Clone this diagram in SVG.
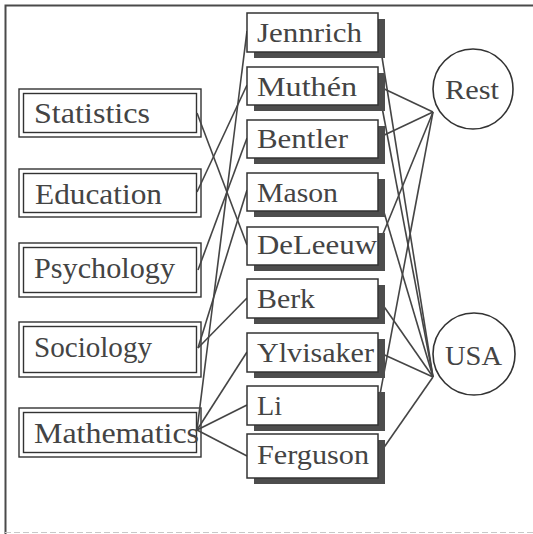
<svg xmlns="http://www.w3.org/2000/svg" width="533" height="534" viewBox="0 0 533 534">
<style>
.frame{fill:none;stroke:#4a4a4a;stroke-width:2}
.edge{stroke:#454545;stroke-width:1.6;fill:none}
.outer{fill:#fff;stroke:#333;stroke-width:1.4}
.inner{fill:#fff;stroke:#333;stroke-width:1.4}
.box{fill:#fff;stroke:#333;stroke-width:1.5}
.shadow{fill:#4d4d4d}
.circ{fill:#fff;stroke:#333;stroke-width:1.6}
text{font-family:"Liberation Serif","DejaVu Serif",serif;fill:#444}
.lt{font-size:30px}
.mt{font-size:27px}
</style>
<rect width="533" height="534" fill="#fff"/>
<path class="frame" d="M5.5,534 V5.5 H533"/>
<line x1="5" y1="532.5" x2="533" y2="532.5" stroke="#c8c8c8" stroke-width="1" stroke-dasharray="6,3"/>

<g id="left-nodes">
<g id="statistics"><rect class="outer" x="19" y="89" width="182" height="48"/><rect class="inner" x="23.5" y="93.5" width="173" height="39"/><text class="lt" x="34" y="123" textLength="116" lengthAdjust="spacingAndGlyphs">Statistics</text></g>
<g id="education"><rect class="outer" x="19" y="169" width="182" height="48"/><rect class="inner" x="23.5" y="173.5" width="173" height="39"/><text class="lt" x="35" y="204" textLength="127" lengthAdjust="spacingAndGlyphs">Education</text></g>
<g id="psychology"><rect class="outer" x="19" y="243" width="182" height="54"/><rect class="inner" x="23.5" y="247.5" width="173" height="45"/><text class="lt" x="34" y="278" textLength="141" lengthAdjust="spacingAndGlyphs">Psychology</text></g>
<g id="sociology"><rect class="outer" x="19" y="322" width="182" height="55"/><rect class="inner" x="23.5" y="326.5" width="173" height="46"/><text class="lt" x="34" y="357" textLength="118" lengthAdjust="spacingAndGlyphs">Sociology</text></g>
<g id="mathematics"><rect class="outer" x="19" y="408" width="182" height="49"/><rect class="inner" x="23.5" y="412.5" width="173" height="40"/><text class="lt" x="34" y="443" textLength="165" lengthAdjust="spacingAndGlyphs">Mathematics</text></g>
</g>

<g id="connectors">
<line class="edge" x1="197" y1="113" x2="247" y2="245"/>
<line class="edge" x1="197" y1="192" x2="247" y2="85"/>
<line class="edge" x1="198" y1="270" x2="247" y2="138"/>
<line class="edge" x1="198" y1="348" x2="247" y2="190"/>
<line class="edge" x1="198" y1="348" x2="247" y2="298"/>
<line class="edge" x1="197" y1="430" x2="247" y2="31"/>
<line class="edge" x1="197" y1="430" x2="247" y2="352"/>
<line class="edge" x1="197" y1="430" x2="247" y2="405"/>
<line class="edge" x1="197" y1="430" x2="247" y2="456"/>
<line class="edge" x1="378" y1="32" x2="433" y2="377"/>
<line class="edge" x1="378" y1="86" x2="433" y2="112"/>
<line class="edge" x1="378" y1="86" x2="433" y2="377"/>
<line class="edge" x1="378" y1="138" x2="433" y2="112"/>
<line class="edge" x1="378" y1="192" x2="433" y2="377"/>
<line class="edge" x1="378" y1="246" x2="433" y2="112"/>
<line class="edge" x1="378" y1="298" x2="433" y2="377"/>
<line class="edge" x1="378" y1="352" x2="433" y2="377"/>
<line class="edge" x1="378" y1="405" x2="433" y2="112"/>
<line class="edge" x1="378" y1="456" x2="433" y2="377"/>
</g>

<g id="middle-nodes">
<g id="jennrich"><rect class="shadow" x="254" y="19" width="131" height="39"/><rect class="box" x="247" y="13" width="131" height="39"/><text class="mt" x="257" y="42" textLength="105" lengthAdjust="spacingAndGlyphs">Jennrich</text></g>
<g id="muthen"><rect class="shadow" x="254" y="73" width="131" height="38"/><rect class="box" x="247" y="67" width="131" height="38"/><text class="mt" x="257" y="96" textLength="100" lengthAdjust="spacingAndGlyphs">Muthén</text></g>
<g id="bentler"><rect class="shadow" x="254" y="126" width="131" height="38"/><rect class="box" x="247" y="120" width="131" height="38"/><text class="mt" x="257" y="148" textLength="91" lengthAdjust="spacingAndGlyphs">Bentler</text></g>
<g id="mason"><rect class="shadow" x="254" y="179" width="131" height="38"/><rect class="box" x="247" y="173" width="131" height="38"/><text class="mt" x="257" y="202" textLength="81" lengthAdjust="spacingAndGlyphs">Mason</text></g>
<g id="deleeuw"><rect class="shadow" x="254" y="233" width="131" height="38"/><rect class="box" x="247" y="227" width="131" height="38"/><text class="mt" x="257" y="254" textLength="120" lengthAdjust="spacingAndGlyphs">DeLeeuw</text></g>
<g id="berk"><rect class="shadow" x="254" y="285" width="131" height="39"/><rect class="box" x="247" y="279" width="131" height="39"/><text class="mt" x="257" y="308" textLength="58" lengthAdjust="spacingAndGlyphs">Berk</text></g>
<g id="ylvisaker"><rect class="shadow" x="254" y="339" width="131" height="39"/><rect class="box" x="247" y="333" width="131" height="39"/><text class="mt" x="257" y="362" textLength="117" lengthAdjust="spacingAndGlyphs">Ylvisaker</text></g>
<g id="li"><rect class="shadow" x="254" y="392" width="131" height="39"/><rect class="box" x="247" y="386" width="131" height="39"/><text class="mt" x="257" y="415" textLength="25" lengthAdjust="spacingAndGlyphs">Li</text></g>
<g id="ferguson"><rect class="shadow" x="254" y="440" width="131" height="44"/><rect class="box" x="247" y="434" width="131" height="44"/><text class="mt" x="257" y="464" textLength="112" lengthAdjust="spacingAndGlyphs">Ferguson</text></g>
</g>

<g id="right-nodes">
<g id="rest"><circle class="circ" cx="473" cy="89" r="40"/><text class="mt" x="445" y="99" textLength="54" lengthAdjust="spacingAndGlyphs">Rest</text></g>
<g id="usa"><circle class="circ" cx="474" cy="354" r="41"/><text class="mt" x="445" y="365" textLength="57" lengthAdjust="spacingAndGlyphs">USA</text></g>
</g>
</svg>
